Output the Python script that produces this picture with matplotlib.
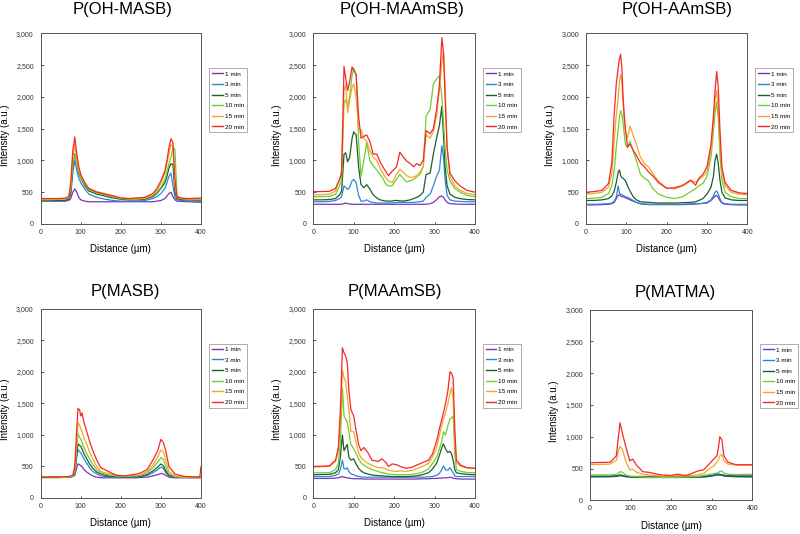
import matplotlib
matplotlib.use('Agg')
import matplotlib.pyplot as plt
from matplotlib.lines import Line2D

plt.rcParams['font.family'] = ['Liberation Sans', 'DejaVu Sans']

# ---------------- data ----------------
times = ['1 min', '3 min', '5 min', '10 min', '15 min', '20 min']
colors = ['#7B35B5', '#2F86D8', '#1D5E2C', '#6CD030', '#F7A52A', '#F52828']
titles = ['P(OH-MASB)', 'P(OH-MAAmSB)', 'P(OH-AAmSB)', 'P(MASB)', 'P(MAAmSB)', 'P(MATMA)']
x_ticks = [0, 100, 200, 300, 400]
y_ticks = [0, 500, 1000, 1500, 2000, 2500, 3000]
y_ticklabels = ['0', '500', '1,000', '1,500', '2,000', '2,500', '3,000']

# P(OH-MASB)
x_oh_masb = [0, 20, 40, 60, 70, 75, 80, 85, 90, 95, 100, 110, 120, 140, 160, 180, 200, 220, 240, 260,
             280, 290, 300, 310, 315, 320, 325, 330, 335, 340, 350, 370, 400]
oh_masb_1 = [360, 360, 360, 360, 370, 400, 500, 550, 500, 420, 380, 360, 350, 350, 350, 350, 350, 350, 350, 350,
             350, 360, 370, 400, 440, 480, 500, 430, 380, 360, 355, 350, 340]
oh_masb_3 = [360, 360, 360, 360, 380, 450, 800, 1000, 850, 720, 650, 550, 470, 420, 390, 370, 360, 360, 360, 370,
             400, 430, 480, 560, 650, 750, 800, 600, 420, 380, 370, 360, 360]
oh_masb_5 = [370, 370, 370, 375, 390, 500, 900, 1100, 950, 800, 720, 600, 520, 470, 440, 410, 390, 380, 380, 390,
             430, 480, 560, 650, 750, 880, 950, 930, 500, 400, 385, 380, 375]
oh_masb_10 = [380, 380, 385, 390, 410, 550, 950, 1080, 930, 820, 730, 620, 540, 490, 460, 430, 400, 390, 390, 400,
              450, 500, 580, 700, 820, 950, 1050, 1200, 1180, 450, 400, 390, 385]
oh_masb_15 = [390, 390, 390, 395, 420, 600, 1050, 1250, 1000, 850, 760, 640, 560, 510, 480, 440, 410, 400, 400, 410,
              460, 530, 640, 800, 950, 1100, 1250, 1220, 600, 420, 400, 395, 395]
oh_masb_20 = [400, 400, 400, 405, 430, 650, 1150, 1370, 1100, 900, 780, 650, 560, 500, 470, 445, 410, 400, 410, 420,
              480, 560, 680, 840, 1000, 1200, 1340, 1280, 700, 430, 410, 400, 410]

# P(OH-MAAmSB)
x_oh_maamsb = [0, 20, 40, 55, 65, 70, 76, 80, 85, 90, 96, 100, 106, 112, 118, 125, 132, 140, 148, 157,
               165, 172, 180, 186, 195, 200, 206, 214, 222, 231, 240, 248, 256, 264, 272, 279, 289, 297, 305, 312,
               318, 322, 326, 331, 338, 350, 363, 380, 400]
oh_maamsb_1 = [310, 310, 310, 310, 310, 310, 320, 330, 320, 315, 310, 310, 310, 310, 310, 310, 310, 310, 310, 310,
               310, 310, 310, 310, 310, 310, 310, 310, 310, 310, 310, 310, 310, 310, 310, 310, 320, 340, 380, 430,
               440, 420, 380, 340, 320, 315, 310, 310, 310]
oh_maamsb_3 = [350, 350, 355, 370, 400, 430, 600, 580, 540, 580, 680, 700, 650, 450, 360, 360, 380, 350, 340, 330,
               330, 330, 330, 330, 330, 335, 340, 340, 340, 340, 340, 340, 345, 350, 360, 420, 470, 600, 750, 850,
               1230, 1050, 700, 450, 380, 360, 355, 350, 350]
oh_maamsb_5 = [380, 380, 385, 400, 460, 520, 1100, 1120, 980, 1050, 1350, 1450, 1400, 900, 620, 570, 620, 550, 460, 410,
               380, 370, 360, 360, 360, 370, 370, 365, 360, 370, 380, 400, 420, 450, 500, 780, 800, 1100, 1350, 1550,
               1850, 1400, 900, 600, 470, 420, 400, 385, 380]
oh_maamsb_10 = [430, 430, 435, 470, 600, 700, 1900, 1950, 1850, 2000, 2350, 2450, 2350, 1300, 750, 1000, 1280, 1000, 920, 850,
                780, 720, 620, 600, 600, 650, 700, 780, 720, 660, 680, 700, 740, 780, 900, 1700, 1800, 2200, 2280, 2330,
                2000, 1600, 1200, 850, 680, 560, 500, 450, 430]
oh_maamsb_15 = [460, 460, 470, 520, 700, 850, 2100, 2200, 1750, 1950, 2150, 2200, 2000, 1500, 1480, 1350, 1300, 1150, 1050, 1000,
                880, 800, 720, 680, 650, 700, 780, 860, 820, 760, 730, 740, 760, 820, 900, 1400, 1350, 1450, 1700, 2100,
                2550, 2720, 2200, 1200, 750, 600, 530, 480, 460]
oh_maamsb_20 = [510, 510, 515, 560, 700, 800, 2480, 2300, 2100, 2250, 2470, 2420, 2350, 1700, 1350, 1380, 1400, 1300, 1100, 1100,
                980, 900, 820, 760, 830, 860, 900, 1130, 1060, 990, 950, 900, 950, 920, 1000, 1470, 1420, 1500, 1800, 2200,
                2930, 2700, 2000, 1200, 800, 680, 600, 530, 500]

# P(OH-AAmSB)
x_oh_aamsb = [0, 20, 40, 56, 64, 70, 75, 80, 83, 86, 89, 92, 95, 98, 103, 109, 117, 125, 135, 145,
              155, 165, 180, 200, 220, 240, 260, 272, 280, 290, 300, 310, 316, 320, 324, 328, 332, 337, 345, 360,
              380, 400]
oh_aamsb_1 = [300, 300, 305, 310, 320, 340, 400, 450, 460, 440, 430, 430, 420, 410, 400, 380, 360, 340, 320, 310,
              305, 305, 305, 305, 305, 305, 310, 315, 320, 325, 330, 370, 410, 440, 450, 420, 370, 330, 310, 305,
              300, 300]
oh_aamsb_3 = [310, 310, 315, 320, 330, 360, 420, 600, 480, 470, 460, 450, 440, 430, 420, 400, 370, 340, 320, 315,
              310, 310, 310, 310, 310, 310, 315, 320, 320, 325, 340, 380, 440, 500, 520, 470, 400, 340, 320, 310,
              310, 310]
oh_aamsb_5 = [370, 370, 380, 400, 440, 520, 650, 820, 850, 760, 730, 720, 700, 680, 600, 520, 430, 380, 350, 345,
              340, 335, 330, 330, 330, 335, 340, 350, 370, 400, 470, 580, 750, 1000, 1100, 950, 700, 500, 410, 380,
              370, 370]
oh_aamsb_10 = [400, 405, 420, 480, 600, 850, 1200, 1500, 1700, 1780, 1720, 1600, 1400, 1250, 1200, 1300, 1150, 1000, 780, 720,
               680, 560, 470, 420, 400, 430, 510, 560, 600, 640, 750, 1050, 1450, 1750, 1920, 1650, 1100, 700, 500, 430,
               400, 400]
oh_aamsb_15 = [470, 480, 500, 580, 800, 1300, 1700, 2000, 2250, 2350, 2200, 1900, 1600, 1450, 1350, 1540, 1400, 1250, 1050, 950,
               900, 800, 670, 570, 550, 600, 680, 660, 700, 750, 820, 1150, 1600, 1950, 2100, 1800, 1300, 800, 600, 500,
               470, 460]
oh_aamsb_20 = [500, 510, 530, 640, 960, 1740, 2200, 2470, 2600, 2670, 2450, 2000, 1700, 1480, 1210, 1260, 1160, 1080, 960, 900,
               820, 760, 650, 560, 570, 610, 690, 610, 720, 780, 900, 1250, 1700, 2100, 2400, 2150, 1500, 900, 650, 530,
               490, 480]

# P(MASB)
x_masb = [0, 40, 70, 80, 85, 90, 93, 97, 100, 103, 108, 115, 122, 130, 140, 150, 160, 175, 190, 210,
          240, 250, 265, 280, 292, 300, 306, 312, 320, 335, 360, 397, 400]
masb_1 = [330, 330, 330, 340, 360, 480, 540, 530, 510, 500, 450, 410, 380, 350, 330, 320, 320, 320, 320, 320,
          320, 325, 330, 350, 370, 390, 380, 360, 330, 320, 320, 320, 320]
masb_3 = [330, 330, 330, 340, 380, 650, 770, 730, 720, 680, 620, 550, 480, 420, 380, 350, 340, 335, 330, 330,
          335, 340, 355, 400, 450, 490, 470, 400, 350, 335, 330, 330, 330]
masb_5 = [330, 330, 335, 345, 400, 700, 860, 830, 820, 780, 700, 620, 540, 470, 410, 380, 360, 345, 340, 335,
          340, 345, 370, 430, 490, 540, 510, 430, 360, 340, 330, 330, 330]
masb_10 = [320, 320, 330, 345, 420, 800, 1020, 960, 940, 880, 800, 700, 620, 530, 450, 400, 380, 360, 345, 340,
           350, 360, 400, 480, 570, 640, 610, 500, 380, 340, 325, 320, 320]
masb_15 = [330, 330, 335, 350, 450, 900, 1200, 1150, 1100, 1050, 950, 850, 730, 620, 500, 420, 400, 380, 360, 350,
           360, 370, 420, 520, 650, 760, 740, 600, 420, 350, 335, 330, 330]
masb_20 = [330, 330, 340, 360, 500, 1100, 1420, 1400, 1300, 1350, 1200, 1050, 900, 750, 600, 480, 450, 400, 360, 350,
           380, 400, 450, 600, 750, 930, 880, 750, 500, 380, 340, 330, 500]

# P(MAAmSB)
x_maamsb = [0, 40, 55, 62, 67, 72, 76, 80, 84, 88, 93, 100, 105, 112, 118, 125, 135, 145, 160, 170,
            180, 186, 195, 205, 215, 230, 245, 255, 270, 285, 295, 305, 312, 318, 322, 327, 333, 338, 342, 346,
            350, 354, 365, 380, 400]
maamsb_1 = [310, 310, 315, 320, 330, 340, 330, 325, 320, 315, 310, 305, 305, 305, 305, 300, 300, 300, 300, 300,
            300, 300, 300, 300, 300, 300, 300, 300, 305, 305, 310, 310, 315, 315, 320, 320, 320, 330, 325, 315,
            310, 305, 300, 300, 300]
maamsb_3 = [340, 340, 360, 380, 450, 600, 460, 460, 480, 420, 380, 370, 350, 340, 335, 330, 330, 330, 330, 330,
            330, 330, 330, 330, 330, 330, 330, 330, 330, 335, 340, 360, 390, 450, 510, 450, 440, 480, 440, 400,
            350, 340, 340, 340, 340]
maamsb_5 = [370, 375, 400, 450, 650, 1000, 750, 800, 850, 650, 600, 620, 550, 470, 430, 400, 380, 365, 355, 350,
            345, 345, 340, 340, 340, 340, 345, 350, 370, 400, 460, 550, 680, 800, 860, 780, 720, 740, 700, 600,
            450, 400, 385, 375, 370]
maamsb_10 = [400, 400, 450, 550, 900, 1750, 1300, 1250, 1200, 1050, 850, 780, 720, 620, 560, 520, 480, 450, 420, 400,
             390, 380, 375, 370, 370, 370, 375, 385, 410, 460, 550, 650, 780, 900, 1050, 1000, 1150, 1250, 1270, 1300,
             700, 450, 420, 405, 400]
maamsb_15 = [490, 500, 580, 750, 1200, 2030, 1900, 1850, 1600, 1400, 1050, 1050, 900, 720, 640, 600, 550, 520, 480, 480,
             460, 440, 430, 420, 430, 420, 440, 460, 500, 550, 650, 800, 1000, 1150, 1250, 1350, 1500, 1650, 1750, 1550,
             900, 560, 500, 480, 470]
maamsb_20 = [500, 510, 600, 800, 1400, 2380, 2300, 2250, 2150, 1700, 1400, 1300, 1100, 850, 750, 800, 720, 600, 580, 620,
             560, 500, 540, 530, 500, 470, 490, 520, 560, 600, 700, 900, 1100, 1250, 1350, 1500, 1700, 2000, 1980, 1900,
             1100, 600, 520, 480, 470]

# P(MATMA)
x_matma = [0, 50, 65, 70, 74, 80, 88, 98, 105, 115, 130, 145, 160, 175, 200, 215, 235, 250, 265, 280,
           295, 305, 313, 317, 320, 325, 330, 340, 360, 400]
matma_1 = [380, 380, 385, 390, 395, 390, 380, 375, 375, 375, 375, 375, 375, 375, 375, 375, 375, 375, 375, 375,
           385, 395, 400, 405, 405, 400, 395, 390, 385, 385]
matma_3 = [370, 370, 375, 380, 385, 380, 370, 365, 360, 360, 360, 360, 360, 360, 360, 360, 360, 360, 362, 365,
           375, 385, 395, 395, 395, 390, 380, 375, 370, 370]
matma_5 = [370, 375, 380, 390, 400, 390, 375, 370, 365, 360, 360, 360, 360, 360, 360, 360, 362, 365, 365, 370,
           380, 395, 410, 415, 410, 400, 390, 380, 375, 370]
matma_10 = [400, 400, 410, 430, 450, 440, 400, 380, 375, 370, 365, 360, 360, 360, 360, 362, 365, 370, 375, 390,
            410, 420, 430, 440, 455, 460, 430, 410, 405, 410]
matma_15 = [560, 570, 630, 780, 850, 800, 620, 480, 490, 440, 410, 400, 390, 380, 380, 385, 385, 390, 400, 420,
            500, 540, 600, 650, 700, 720, 620, 570, 555, 550]
matma_20 = [590, 600, 700, 1000, 1220, 1050, 850, 620, 650, 550, 450, 440, 420, 400, 390, 410, 390, 420, 460, 480,
            580, 650, 700, 850, 1000, 950, 700, 600, 560, 560]

panels = [
    (x_oh_masb, [oh_masb_1, oh_masb_3, oh_masb_5, oh_masb_10, oh_masb_15, oh_masb_20]),
    (x_oh_maamsb, [oh_maamsb_1, oh_maamsb_3, oh_maamsb_5, oh_maamsb_10, oh_maamsb_15, oh_maamsb_20]),
    (x_oh_aamsb, [oh_aamsb_1, oh_aamsb_3, oh_aamsb_5, oh_aamsb_10, oh_aamsb_15, oh_aamsb_20]),
    (x_masb, [masb_1, masb_3, masb_5, masb_10, masb_15, masb_20]),
    (x_maamsb, [maamsb_1, maamsb_3, maamsb_5, maamsb_10, maamsb_15, maamsb_20]),
    (x_matma, [matma_1, matma_3, matma_5, matma_10, matma_15, matma_20]),
]

# ---------------- layout (pixel boxes) ----------------
W, H = 800, 534
axes_px = [(40.7, 33.3, 201, 224), (313.3, 33.3, 475, 224), (586, 33.3, 747.3, 224),
           (40.7, 308.7, 201, 498), (313.3, 308.7, 475, 498), (590, 309.7, 752.3, 500.3)]
title_px = [(122.5, 14.2), (402, 14.2), (677, 14.2), (125, 295.7), (395, 295.7), (675.5, 296.5)]
legend_px = [(209.3, 68.3), (482.7, 68.3), (755, 68.3), (209.3, 343.7), (482.7, 343.7), (760, 344.3)]

fig = plt.figure(figsize=(8, 5.34), dpi=100)
fig.patch.set_facecolor('white')

for i, (xs, series) in enumerate(panels):
    l, t, r, b = axes_px[i]
    ax = fig.add_axes([l / W, 1 - b / H, (r - l) / W, (b - t) / H])
    for ys, c, lab in zip(series, colors, times):
        ax.plot(xs, ys, color=c, lw=0.9, label=lab)
    ax.set_xlim(0, 400)
    ax.set_ylim(0, 3000)
    ax.set_xticks(x_ticks)
    ax.set_yticks(y_ticks)
    ax.set_yticklabels(y_ticklabels)
    ax.tick_params(axis='both', direction='in', length=1.8, width=0.6, labelsize=5, colors='#333333')
    ax.tick_params(axis='y', pad=5)
    ax.tick_params(axis='x', pad=3.5)
    for sp in ax.spines.values():
        sp.set_color('#555555')
        sp.set_linewidth(0.7)
    ax.set_xlabel('Distance (µm)', fontsize=7)
    ax.set_ylabel('Intensity (a.u.)', fontsize=7)
    hgt = b - t
    ax.xaxis.set_label_coords(0.5, -(19.5 if i < 3 else 20.5) / hgt)
    ax.yaxis.set_label_coords(-31.2 / (r - l), 0.467)
    tx, ty = title_px[i]
    fig.text(tx / W, 1 - ty / H, titles[i], fontsize=12, ha='center', va='baseline')
    lx, ly = legend_px[i]
    handles = [Line2D([0], [0], color=c, lw=1.0) for c in colors]
    leg = ax.legend(handles, times, loc='upper left', bbox_to_anchor=(lx / W, 1 - ly / H),
                    bbox_transform=fig.transFigure, fontsize=4.6, frameon=True, fancybox=False,
                    borderaxespad=0, borderpad=0.45, labelspacing=0.8, handlelength=1.7,
                    handletextpad=0.3)
    leg.get_frame().set_edgecolor('#888888')
    leg.get_frame().set_linewidth(0.6)

fig.savefig('out.png', dpi=100, facecolor='white')
